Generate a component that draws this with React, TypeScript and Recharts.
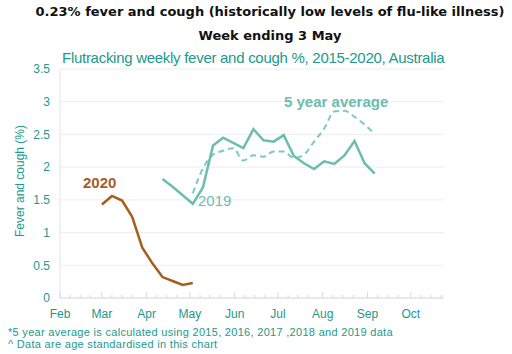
import { LineChart, Line, XAxis, YAxis, CartesianGrid } from 'recharts'

// x values are days since 1 Feb 2020
const monthTicks = [0, 29, 60, 90, 121, 151, 182, 213, 243]
const monthLabels = ['Feb', 'Mar', 'Apr', 'May', 'Jun', 'Jul', 'Aug', 'Sep', 'Oct']
const weekTicks = [7, 14, 21, 36, 43, 50, 67, 74, 81, 97, 104, 111, 128, 135, 142, 158, 165, 172, 189, 196, 203, 220, 227, 234, 250, 257, 264]
const yTicks = [0, 0.5, 1, 1.5, 2, 2.5, 3, 3.5]

const weeks2020 = [29, 36, 43, 50, 57, 64, 71, 78, 85, 92]
const fever2020 = [1.43, 1.56, 1.49, 1.24, 0.77, 0.53, 0.32, 0.26, 0.2, 0.23]

const weeks2019 = [71, 78, 85, 92, 99, 106, 113, 120, 127, 134, 141, 148, 155, 162, 169, 176, 183, 190, 197, 204, 211, 218]
const fever2019 = [1.82, 1.7, 1.57, 1.44, 1.69, 2.33, 2.45, 2.37, 2.29, 2.58, 2.41, 2.39, 2.49, 2.17, 2.06, 1.97, 2.09, 2.05, 2.18, 2.4, 2.06, 1.9]

const weeksAvg = [92, 99, 106, 113, 120, 127, 134, 141, 148, 155, 162, 169, 176, 183, 190, 197, 204, 211, 218]
const feverAvg = [1.6, 1.98, 2.19, 2.25, 2.29, 2.1, 2.18, 2.16, 2.24, 2.24, 2.14, 2.19, 2.39, 2.59, 2.85, 2.86, 2.77, 2.65, 2.51]

const toRows = (xs: number[], ys: number[]) => xs.map((day, i) => ({ day, value: ys[i] }))

const TEAL_TEXT = '#21998a'
const TEAL_LINE = '#6cbdaf'
const BROWN = '#a65e1e'
const FONT = 'Arial, "Liberation Sans", sans-serif'

interface TickProps {
  x?: number
  y?: number
  payload?: { value: number }
}

function MonthTick({ x = 0, y = 0, payload }: TickProps) {
  const idx = monthTicks.indexOf(payload?.value ?? -1)
  const major = idx >= 0
  return (
    <g>
      <line x1={x} x2={x} y1={y} y2={y - (major ? 6 : 3)} stroke="#d9d9d9" />
      {major && (
        <text x={x} y={y + 20} textAnchor="middle" fill={TEAL_TEXT} fontSize={12} fontFamily={FONT}>
          {monthLabels[idx]}
        </text>
      )}
    </g>
  )
}

const abs = (left: number, top: number): React.CSSProperties => ({
  position: 'absolute',
  left,
  top,
  whiteSpace: 'nowrap',
  lineHeight: 1,
})

export default function App() {
  return (
    <div style={{ position: 'absolute', left: 0, top: 0, width: 512, height: 354, background: '#fff', fontFamily: FONT }}>
      <div style={{ ...abs(0, 5), width: 512, paddingLeft: 28, boxSizing: 'border-box', textAlign: 'center', fontFamily: '"DejaVu Sans", sans-serif', fontWeight: 'bold', fontSize: 13, color: '#111' }}>
        0.23% fever and cough (historically low levels of flu-like illness)
      </div>
      <div style={{ ...abs(0, 29), width: 512, paddingLeft: 28, boxSizing: 'border-box', textAlign: 'center', fontFamily: '"DejaVu Sans", sans-serif', fontWeight: 'bold', fontSize: 13, color: '#111' }}>
        Week ending 3 May
      </div>
      <div style={{ ...abs(62, 50), fontSize: 15, color: TEAL_TEXT, letterSpacing: -0.28 }}>
        Flutracking weekly fever and cough %, 2015-2020, Australia
      </div>

      <LineChart width={512} height={354} data={[]} margin={{ top: 69, right: 68, bottom: 26, left: 0 }}>
        <CartesianGrid horizontal vertical={false} stroke="#eeeeee" />
        <XAxis
          type="number"
          dataKey="day"
          domain={[0, 266]}
          ticks={[...monthTicks, ...weekTicks]}
          interval={0}
          height={30}
          tickSize={0}
          tickMargin={0}
          axisLine={{ stroke: '#d9d9d9' }}
          tickLine={false}
          tick={<MonthTick />}
          allowDuplicatedCategory={false}
        />
        <YAxis
          type="number"
          domain={[0, 3.5]}
          ticks={yTicks}
          width={60}
          tickSize={0}
          tickMargin={10}
          axisLine={{ stroke: '#e3e3e3' }}
          tickLine={false}
          tick={{ fill: TEAL_TEXT, fontSize: 12, fontFamily: FONT }}
        />
        <Line data={toRows(weeksAvg, feverAvg)} dataKey="value" type="monotone" stroke="#7ccabc" strokeWidth={2} strokeDasharray="6 4" dot={false} isAnimationActive={false} />
        <Line data={toRows(weeks2019, fever2019)} dataKey="value" type="linear" stroke={TEAL_LINE} strokeWidth={2.5} dot={false} isAnimationActive={false} />
        <Line data={toRows(weeks2020, fever2020)} dataKey="value" type="linear" stroke={BROWN} strokeWidth={2.5} dot={false} isAnimationActive={false} />
      </LineChart>

      <div style={{ ...abs(20, 181), fontSize: 12, color: TEAL_TEXT, transform: 'translate(-50%, -50%) rotate(-90deg)', transformOrigin: 'center' }}>
        Fever and cough (%)
      </div>

      <div style={{ ...abs(83, 175), fontSize: 15, fontWeight: 'bold', color: BROWN }}>2020</div>
      <div style={{ ...abs(198, 193), fontSize: 15, color: TEAL_LINE }}>2019</div>
      <div style={{ ...abs(284, 94), fontSize: 15, fontWeight: 'bold', color: TEAL_LINE }}>5 year average</div>

      <div style={{ ...abs(8, 327), fontSize: 11, color: TEAL_TEXT, letterSpacing: 0.3 }}>
        *5 year average is calculated using 2015, 2016, 2017 ,2018 and 2019 data
      </div>
      <div style={{ ...abs(8, 339), fontSize: 11, color: TEAL_TEXT, letterSpacing: 0.3 }}>
        ^ Data are age standardised in this chart
      </div>
    </div>
  )
}
